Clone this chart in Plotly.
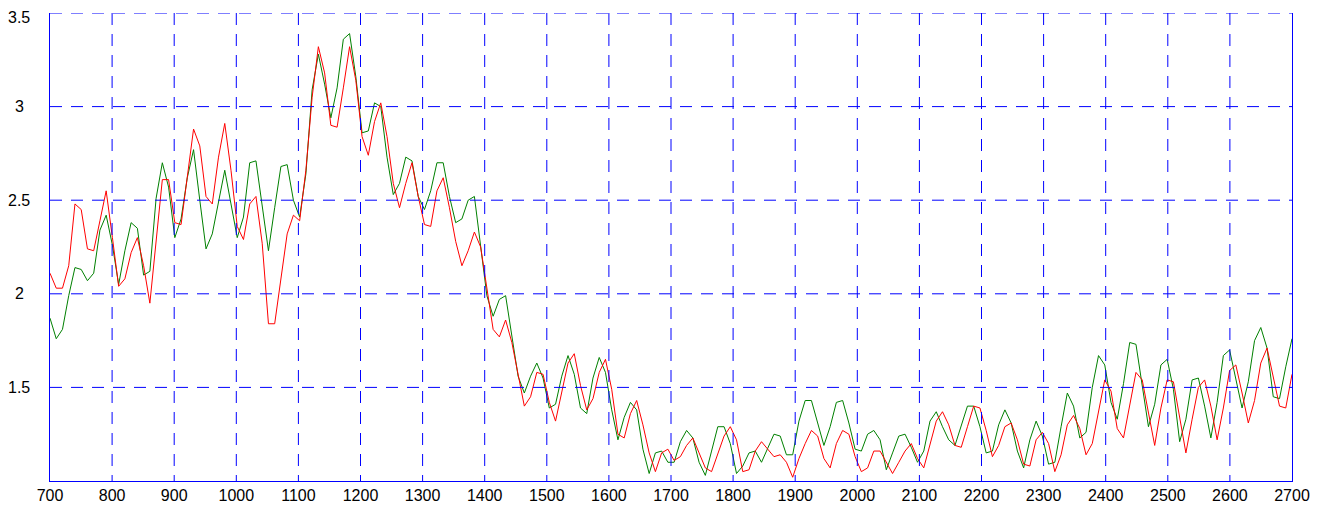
import plotly.graph_objects as go

# sample grid: 200 samples spanning 700..2700
x_start = 700
x_end = 2700
n_samples = 200

red_values = [
    2.11, 2.03, 2.03, 2.15, 2.48, 2.45, 2.24, 2.23, 2.39, 2.55,
    2.30, 2.04, 2.08, 2.22, 2.30, 2.15, 1.95, 2.30, 2.61, 2.61,
    2.38, 2.37, 2.64, 2.88, 2.79, 2.52, 2.48, 2.73, 2.91, 2.66,
    2.36, 2.29, 2.48, 2.52, 2.27, 1.84, 1.84, 2.09, 2.32, 2.42,
    2.39, 2.66, 3.05, 3.32, 3.18, 2.90, 2.89, 3.10, 3.32, 3.14,
    2.84, 2.74, 2.92, 3.02, 2.84, 2.59, 2.46, 2.59, 2.70, 2.52,
    2.37, 2.36, 2.55, 2.62, 2.46, 2.28, 2.15, 2.23, 2.33, 2.25,
    2.02, 1.81, 1.77, 1.86, 1.74, 1.56, 1.40, 1.45, 1.58, 1.57,
    1.42, 1.32, 1.47, 1.63, 1.68, 1.51, 1.38, 1.44, 1.58, 1.65,
    1.49, 1.25, 1.23, 1.36, 1.43, 1.30, 1.15, 1.05, 1.15, 1.17,
    1.11, 1.13, 1.19, 1.23, 1.15, 1.07, 1.05, 1.14, 1.24, 1.29,
    1.22, 1.05, 1.06, 1.16, 1.21, 1.17, 1.13, 1.14, 1.10, 1.02,
    1.12, 1.20, 1.27, 1.24, 1.12, 1.07, 1.20, 1.27, 1.25, 1.13,
    1.05, 1.07, 1.16, 1.16, 1.10, 1.04, 1.10, 1.16, 1.20, 1.12,
    1.07, 1.20, 1.32, 1.37, 1.30, 1.19, 1.18, 1.29, 1.40, 1.39,
    1.27, 1.13, 1.19, 1.29, 1.31, 1.22, 1.09, 1.08, 1.22, 1.26,
    1.20, 1.05, 1.14, 1.30, 1.35, 1.28, 1.14, 1.20, 1.37, 1.54,
    1.48, 1.28, 1.23, 1.40, 1.58, 1.54, 1.37, 1.19, 1.39, 1.54,
    1.53, 1.35, 1.15, 1.33, 1.50, 1.54, 1.40, 1.22, 1.39, 1.59,
    1.62, 1.47, 1.31, 1.43, 1.63, 1.71, 1.56, 1.40, 1.39, 1.57,
]

green_values = [
    1.87, 1.76, 1.81, 1.99, 2.14, 2.13, 2.07, 2.11, 2.34, 2.42,
    2.26, 2.05, 2.23, 2.38, 2.35, 2.10, 2.12, 2.51, 2.70, 2.57,
    2.30, 2.40, 2.62, 2.77, 2.50, 2.24, 2.32, 2.50, 2.66, 2.48,
    2.30, 2.41, 2.70, 2.71, 2.48, 2.23, 2.46, 2.68, 2.69, 2.50,
    2.41, 2.64, 3.09, 3.28, 3.12, 2.94, 3.10, 3.36, 3.39, 3.16,
    2.86, 2.87, 3.02, 3.00, 2.73, 2.53, 2.59, 2.73, 2.71, 2.52,
    2.45, 2.55, 2.70, 2.70, 2.52, 2.38, 2.40, 2.50, 2.52, 2.25,
    1.99, 1.88, 1.97, 1.99, 1.77, 1.56, 1.47, 1.56, 1.63, 1.55,
    1.39, 1.41, 1.56, 1.67, 1.57, 1.39, 1.36, 1.55, 1.66, 1.58,
    1.38, 1.22, 1.34, 1.42, 1.38, 1.17, 1.04, 1.15, 1.16, 1.10,
    1.10, 1.21, 1.27, 1.23, 1.10, 1.03, 1.16, 1.29, 1.29, 1.20,
    1.04, 1.08, 1.15, 1.16, 1.10, 1.18, 1.25, 1.24, 1.14, 1.14,
    1.32, 1.43, 1.43, 1.31, 1.19, 1.29, 1.42, 1.43, 1.31, 1.17,
    1.16, 1.25, 1.27, 1.22, 1.06, 1.15, 1.24, 1.25, 1.18, 1.10,
    1.16, 1.32, 1.37, 1.29, 1.22, 1.19, 1.30, 1.40, 1.40, 1.29,
    1.15, 1.16, 1.30, 1.38, 1.31, 1.16, 1.07, 1.22, 1.32, 1.24,
    1.09, 1.10, 1.29, 1.47, 1.40, 1.23, 1.26, 1.50, 1.67, 1.62,
    1.42, 1.33, 1.52, 1.74, 1.73, 1.50, 1.29, 1.41, 1.62, 1.65,
    1.49, 1.21, 1.33, 1.54, 1.55, 1.40, 1.23, 1.42, 1.67, 1.70,
    1.55, 1.39, 1.53, 1.75, 1.82, 1.71, 1.45, 1.44, 1.61, 1.76,
]

x_ticks = list(range(700, 2701, 100))
x_tick_labels = [str(v) for v in x_ticks]
y_ticks = [1.5, 2, 2.5, 3, 3.5]
y_tick_labels = ["1.5", "2", "2.5", "3", "3.5"]

step = (x_end - x_start) / (n_samples - 1)
x_values = [x_start + i * step for i in range(n_samples)]

fig = go.Figure()
fig.add_trace(go.Scatter(x=x_values, y=green_values, mode="lines",
                         line=dict(color="#008000", width=1), showlegend=False))
fig.add_trace(go.Scatter(x=x_values, y=red_values, mode="lines",
                         line=dict(color="#ff0000", width=1), showlegend=False))

# page body has an 8px default margin; size the figure to fill the rest
W, H = 1318, 497
L, R, T, B = 42, 34, 5, 24
font_family = "Liberation Sans, Arial, sans-serif"
grid_blue = "#0000ff"
grid_dash = "12px,9px"

fig.update_layout(
    template="none",
    width=W, height=H,
    margin=dict(l=L, r=R, t=T, b=B, pad=0),
    paper_bgcolor="white", plot_bgcolor="white",
    showlegend=False,
    font=dict(family=font_family, size=16, color="black"),
    xaxis=dict(
        range=[700, 2700], tickmode="array", tickvals=x_ticks, ticktext=x_tick_labels,
        showgrid=False,
        showline=True, linecolor=grid_blue, linewidth=1, mirror=False,
        zeroline=False, ticks="", automargin=False,
        tickfont=dict(family=font_family, size=16, color="black"),
    ),
    yaxis=dict(
        range=[1.0, 3.5], tickmode="array", tickvals=y_ticks,
        showticklabels=False, showgrid=False,
        showline=True, linecolor=grid_blue, linewidth=1, mirror=True,
        zeroline=False, ticks="", automargin=False,
    ),
)

# dashed grid drawn above the traces, positioned on the axes' scales
for v in x_ticks[1:-1]:
    fig.add_shape(type="line", xref="x", yref="paper", x0=v, x1=v, y0=1, y1=0,
                  line=dict(color=grid_blue, width=1, dash=grid_dash), layer="above")
for v in y_ticks:
    fig.add_shape(type="line", xref="paper", yref="y", x0=0, x1=1, y0=v, y1=v,
                  line=dict(color=grid_blue, width=1, dash=grid_dash), layer="above")

plot_w = W - L - R
label_x = (19 - 50) / plot_w
for v, t in zip(y_ticks, y_tick_labels):
    fig.add_annotation(x=label_x, y=v, xref="paper", yref="y", text=t,
                       showarrow=False, xanchor="center", yanchor="middle",
                       yshift=(-4 if v == 3.5 else 0),
                       font=dict(family=font_family, size=16, color="black"))

fig.write_html("out.html")
